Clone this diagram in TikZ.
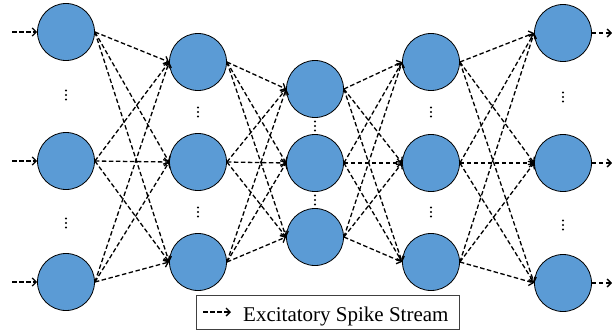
\documentclass[tikz,border=0pt]{standalone}
\usepackage{fontspec}
\setmainfont{Liberation Serif}
\usetikzlibrary{arrows.meta}
\definecolor{nodeblue}{HTML}{5B9BD5}
\begin{document}
\begin{tikzpicture}[x=1pt,y=-1pt,
  neuron/.style={circle,draw=black,line width=0.8pt,fill=nodeblue,minimum size=57pt,inner sep=0pt},
  spike/.style={dash pattern=on 4.5pt off 2.5pt, line width=1.3pt, -{Straight Barb[length=4pt,width=8pt]}},
  legendbox/.style={draw=black!75,line width=0.8pt,minimum width=263pt,minimum height=34pt,inner sep=0pt}]
\useasboundingbox (0,0) rectangle (612,335);
% layer 1
\node[neuron] (l11) at (66,32) {};
\node[neuron] (l12) at (66,161) {};
\node[neuron] (l13) at (66,282) {};
% layer 2
\node[neuron] (l21) at (198,62) {};
\node[neuron] (l22) at (198,162) {};
\node[neuron] (l23) at (198,262) {};
% layer 3
\node[neuron] (l31) at (315,89) {};
\node[neuron] (l32) at (315,163) {};
\node[neuron] (l33) at (315,237) {};
% layer 4
\node[neuron] (l41) at (431,62) {};
\node[neuron] (l42) at (431,163) {};
\node[neuron] (l43) at (431,262) {};
% layer 5
\node[neuron] (l51) at (563,33) {};
\node[neuron] (l52) at (563,163) {};
\node[neuron] (l53) at (563,283) {};
% vertical dots
\foreach \x/\y in {66/95, 66/223, 198/112, 198/212, 315/126, 315/200, 431/112, 431/212, 563/97, 563/225}{
  \foreach \d in {-4.5,0,4.5}{\fill (\x,\y+\d) circle (1.2pt);}
}
% inputs and outputs
\coordinate (in1) at (12,32);
\coordinate (in2) at (12,161);
\coordinate (in3) at (12,282);
\coordinate (out1) at (612,33);
\coordinate (out2) at (612,163);
\coordinate (out3) at (612,283);
\foreach \i in {1,2,3}{
  \draw[spike] (in\i) -- (l1\i.west);
  \draw[spike] (l5\i.east) -- (out\i);
}
% full connections
\foreach \a in {1,2,3}{
  \foreach \b in {1,2,3}{
    \draw[spike] (l1\a.east) -- (l2\b.west);
    \draw[spike] (l2\a.east) -- (l3\b.west);
    \draw[spike] (l3\a.east) -- (l4\b.west);
    \draw[spike] (l4\a.east) -- (l5\b.west);
  }
}
% legend
\node[legendbox] (legend) at (327.5,312) {};
\coordinate (legA) at (203,312);
\coordinate (legB) at (231,312);
\draw[spike] (legA) -- (legB);
\node[anchor=base west,inner sep=0pt,font=\fontsize{21}{21}\selectfont] (legtext) at (243,321) {Excitatory Spike Stream};
\end{tikzpicture}
\end{document}
